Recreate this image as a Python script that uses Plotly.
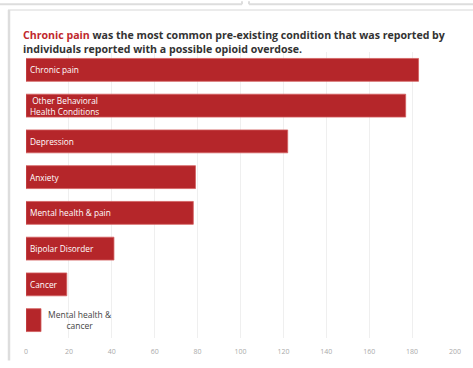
import plotly.graph_objects as go

# Pre-existing conditions among people with a possible opioid overdose
categories = [
    "Chronic pain",
    "Other Behavioral Health Conditions",
    "Depression",
    "Anxiety",
    "Mental health & pain",
    "Bipolar Disorder",
    "Cancer",
    "Mental health & cancer",
]
bar_labels = [
    "Chronic pain",
    "\u00a0Other Behavioral<br>Health Conditions",
    "Depression",
    "Anxiety",
    "Mental health & pain",
    "Bipolar Disorder",
    "Cancer",
    "Mental health &<br>cancer",
]
counts = [183, 177, 122, 79, 78, 41, 19, 7]
label_inside = [True, True, True, True, True, True, True, False]
x_ticks = [0, 20, 40, 60, 80, 100, 120, 140, 160, 180, 200]

W, H = 473, 368
ML, MR, MT, MB = 26, 18, 52, 23
PW, PH = W - ML - MR, H - MT - MB

RED = "#b5262a"
FONT = "Open Sans, Noto Sans, sans-serif"


def px_x(px):
    return (px - ML) / PW


def px_y(py):
    return (H - MB - py) / PH


fig = go.Figure(
    go.Bar(
        x=counts,
        y=categories,
        orientation="h",
        marker=dict(color=RED, line=dict(color="#d3605f", width=0.8)),
        hoverinfo="x+y",
    )
)

annotations = []
for cat, lab, val, inside in zip(categories, bar_labels, counts, label_inside):
    if inside:
        annotations.append(dict(
            x=0, y=cat, xref="x", yref="y", text=lab, showarrow=False,
            xanchor="left", xshift=2, align="left",
            font=dict(family=FONT, size=8.3, color="white"),
        ))
    else:
        annotations.append(dict(
            x=val, y=cat, xref="x", yref="y", text=lab, showarrow=False,
            xanchor="left", xshift=5, align="center",
            font=dict(family=FONT, size=8.5, color="#444444"),
        ))

# Headline with the leading condition highlighted
annotations.append(dict(
    x=px_x(21), y=px_y(42), xref="paper", yref="paper",
    xanchor="left", yanchor="middle", align="left", showarrow=False,
    text=("<span style='color:#c0282d'>Chronic pain</span> was the most common "
          "pre-existing condition that was reported by<br>"
          "individuals reported with a possible opioid overdose."),
    font=dict(family=FONT, size=10.6, color="#333333", weight="bold"),
))

# Page frame around the chart card
FRAME = "#dddddd"
shapes = [
    dict(type="line", xref="paper", yref="paper", x0=px_x(0), x1=px_x(242),
         y0=px_y(3), y1=px_y(3), line=dict(color=FRAME, width=2)),
    dict(type="line", xref="paper", yref="paper", x0=px_x(242), x1=px_x(242),
         y0=px_y(0), y1=px_y(3), line=dict(color=FRAME, width=2)),
    dict(type="line", xref="paper", yref="paper", x0=px_x(249), x1=px_x(473),
         y0=px_y(3), y1=px_y(3), line=dict(color=FRAME, width=2)),
    dict(type="line", xref="paper", yref="paper", x0=px_x(249), x1=px_x(249),
         y0=px_y(0), y1=px_y(3), line=dict(color=FRAME, width=2)),
    dict(type="line", xref="paper", yref="paper", x0=px_x(8), x1=px_x(473),
         y0=px_y(9), y1=px_y(9), line=dict(color="#e4e4e4", width=1.5)),
    dict(type="line", xref="paper", yref="paper", x0=px_x(9), x1=px_x(9),
         y0=px_y(9), y1=px_y(368), line=dict(color=FRAME, width=2.5)),
]

fig.update_layout(
    width=W, height=H,
    margin=dict(l=ML, r=MR, t=MT, b=MB, pad=0),
    paper_bgcolor="white", plot_bgcolor="white",
    bargap=0.36,
    showlegend=False,
    annotations=annotations,
    shapes=shapes,
    xaxis=dict(
        range=[0, 200], tickvals=x_ticks, showgrid=True, gridcolor="#efefef",
        gridwidth=1, zeroline=False, showline=False,
        ticks="outside", ticklen=7, tickcolor="rgba(0,0,0,0)",
        tickfont=dict(family=FONT, size=7, color="#aaaaaa"),
        fixedrange=True,
    ),
    yaxis=dict(
        autorange="reversed", showticklabels=False, showgrid=False,
        zeroline=False, showline=False, fixedrange=True,
    ),
)

fig.write_html("out.html")
